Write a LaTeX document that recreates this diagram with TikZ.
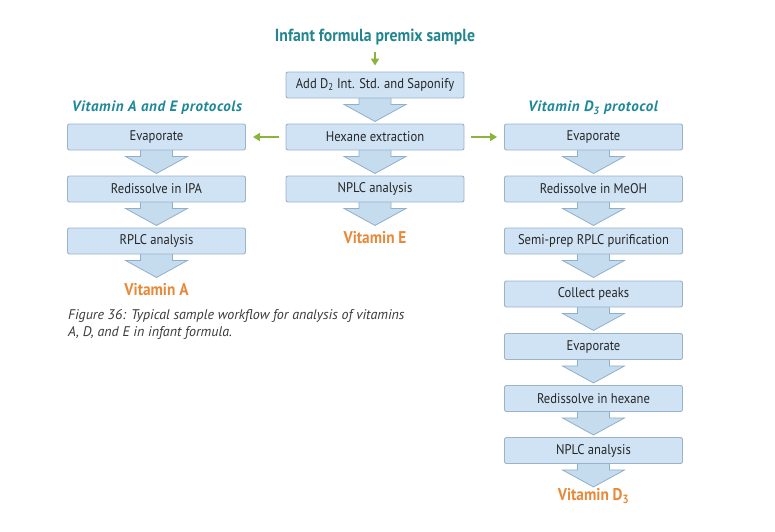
\documentclass[tikz,border=0pt]{standalone}
\usepackage{fontspec}
\setmainfont{PT Sans}[FakeStretch=0.9]
\newfontfamily\plainfont{PT Sans}
\newfontfamily\subfont{PT Sans}[LetterSpace=4]
\usetikzlibrary{arrows.meta}
\definecolor{boxfill}{HTML}{CFE3F4}
\definecolor{boxline}{HTML}{9AB3C9}
\definecolor{arrfill}{HTML}{C5DCEF}
\definecolor{arrline}{HTML}{8FAFCB}
\definecolor{tealc}{HTML}{23868E}
\definecolor{subc}{HTML}{1E8898}
\definecolor{orangec}{HTML}{E8893A}
\definecolor{greenc}{HTML}{8CB43C}
\definecolor{captc}{HTML}{3A3A3A}
\pgfdeclarelayer{bg}
\pgfsetlayers{bg,main}
\tikzset{
  stepbox/.style={draw=boxline, fill=boxfill, line width=0.9pt, rounded corners=2pt,
    minimum width=178pt, minimum height=26pt, inner sep=0pt, font=\fontsize{14}{16}\selectfont, text=black!85},
  blockarr/.style={draw=arrline, fill=arrfill, line width=0.8pt, line join=miter},
  greenarr/.style={draw=greenc, line width=2pt, -{Triangle[width=8pt,length=7pt]}},
  headtxt/.style={font=\bfseries\fontsize{17.5}{20}\selectfont, text=tealc},
  subtxt/.style={font=\subfont\bfseries\itshape\fontsize{15}{17}\selectfont, text=subc},
  vittxt/.style={font=\bfseries\fontsize{17}{19}\selectfont, text=orangec},
}
\newcommand\blockarrow[1]{%
  \begin{pgfonlayer}{bg}
  \draw[blockarr] ([shift={(-16,-3)}]#1.south) -- ([shift={(-16,6)}]#1.south) --
    ([shift={(-31,6)}]#1.south) -- ([shift={(0,23)}]#1.south) --
    ([shift={(31,6)}]#1.south) -- ([shift={(16,6)}]#1.south) --
    ([shift={(16,-3)}]#1.south) -- cycle;
  \end{pgfonlayer}}
\begin{document}
\begin{tikzpicture}[x=1pt,y=-1pt]
\useasboundingbox (0,0) rectangle (775,531);
% headings
\node[headtxt] (title) at (375,37) {Infant formula premix sample};
\node[subtxt] (subA) at (157,108) {Vitamin A and E protocols};
\node[subtxt] (subD) at (593,108) {Vitamin D\textsubscript{3} protocol};
% center column
\node[stepbox] (c1) at (375,85) {Add D\textsubscript{2} Int. Std. and Saponify};
\node[stepbox] (c2) at (375,137) {Hexane extraction};
\node[stepbox] (c3) at (375,189) {NPLC analysis};
\node[vittxt] (vE) at (375,238) {Vitamin E};
% left column
\node[stepbox] (l1) at (156.5,137) {Evaporate};
\node[stepbox] (l2) at (156.5,189) {Redissolve in IPA};
\node[stepbox] (l3) at (156.5,241) {RPLC analysis};
\node[vittxt] (vA) at (156.5,290) {Vitamin A};
% right column
\node[stepbox] (r1) at (593.5,137) {Evaporate};
\node[stepbox] (r2) at (593.5,189) {Redissolve in MeOH};
\node[stepbox] (r3) at (593.5,241) {Semi-prep RPLC purification};
\node[stepbox] (r4) at (593.5,294) {Collect peaks};
\node[stepbox] (r5) at (593.5,346.5) {Evaporate};
\node[stepbox] (r6) at (593.5,398.5) {Redissolve in hexane};
\node[stepbox] (r7) at (593.5,450.5) {NPLC analysis};
\node[vittxt] (vD) at (593.5,496) {Vitamin D\textsubscript{3}};
% block arrows
\blockarrow{c1}\blockarrow{c2}\blockarrow{c3}
\blockarrow{l1}\blockarrow{l2}\blockarrow{l3}
\blockarrow{r1}\blockarrow{r2}\blockarrow{r3}\blockarrow{r4}\blockarrow{r5}\blockarrow{r6}\blockarrow{r7}
% green arrows
\draw[greenarr] ([yshift=-3pt]title.south) -- ([yshift=6pt]c1.north);
\draw[greenarr] ([xshift=-7pt]c2.west) -- ([xshift=7pt]l1.east);
\draw[greenarr] ([xshift=7pt]c2.east) -- ([xshift=-7pt]r1.west);
% caption
\node[anchor=north west, align=left, inner sep=0pt, text=captc,
  font=\plainfont\itshape\fontsize{14}{17}\selectfont] (cap) at (68,309)
  {Figure 36: Typical sample workflow for analysis of vitamins\\A, D, and E in infant formula.};
\end{tikzpicture}
\end{document}
